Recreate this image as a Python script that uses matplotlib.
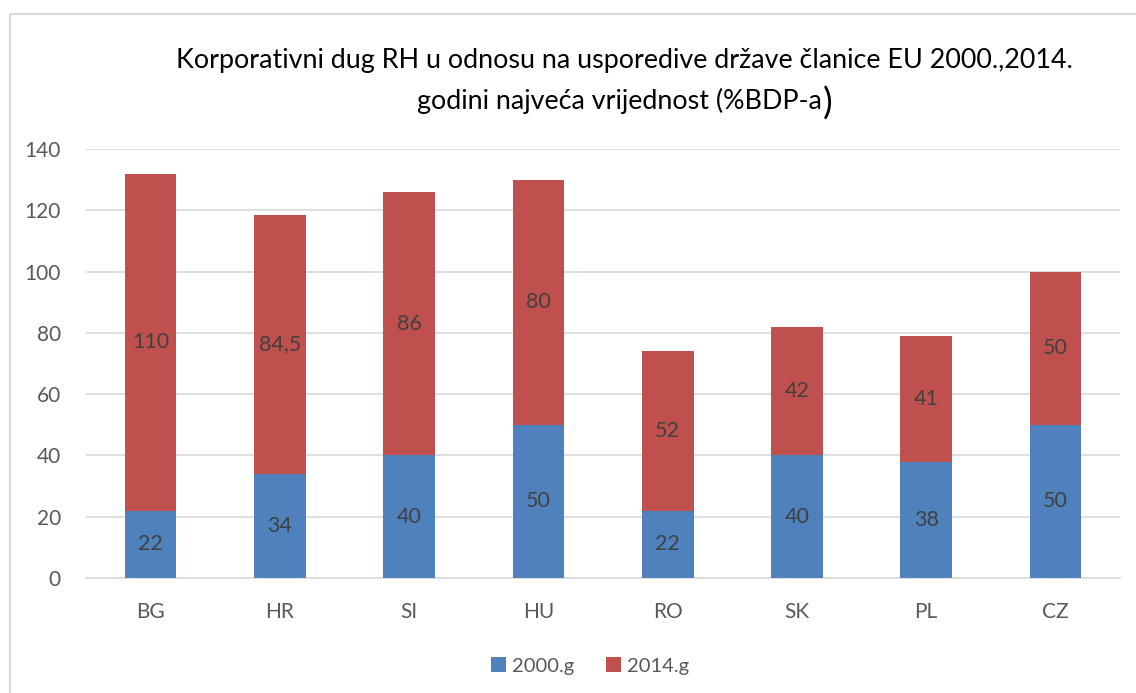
import numpy as np
import matplotlib.pyplot as plt
from matplotlib.patches import Rectangle

countries = ['BG', 'HR', 'SI', 'HU', 'RO', 'SK', 'PL', 'CZ']
y2000 = np.array([22, 34, 40, 50, 22, 40, 38, 50])
y2014 = np.array([110, 84.5, 86, 80, 52, 42, 41, 50])
yticks = [0, 20, 40, 60, 80, 100, 120, 140]

plt.rcParams['font.family'] = ['Lato', 'DejaVu Sans']

fig = plt.figure(figsize=(11.36, 6.93), dpi=100)
ax = fig.add_axes([0.0757, 0.166, 0.9103, 0.619])

x = np.arange(len(countries))
blue = '#4F81BD'
red = '#C0504D'
ax.bar(x, y2000, width=0.4, color=blue, label='2000.g', zorder=3)
ax.bar(x, y2014, width=0.4, bottom=y2000, color=red, label='2014.g', zorder=3)

def fmt(v):
    return ('%g' % v).replace('.', ',')

for xi, a, b in zip(x, y2000, y2014):
    ax.text(xi, a / 2, fmt(a), ha='center', va='center', fontsize=15.5, color='#404040', zorder=4)
    ax.text(xi, a + b / 2, fmt(b), ha='center', va='center', fontsize=15.5, color='#404040', zorder=4)

ax.set_xlim(-0.5, len(countries) - 0.5)
ax.set_ylim(0, 140)
ax.set_yticks(yticks)
ax.set_xticks(x)
ax.set_xticklabels(countries)
ax.grid(axis='y', color='#D9D9D9', linewidth=1.2, zorder=0)
for s in ['top', 'right', 'left']:
    ax.spines[s].set_visible(False)
ax.spines['bottom'].set_color('#D9D9D9')
ax.spines['bottom'].set_linewidth(1.2)
ax.tick_params(axis='both', length=0, labelsize=15, colors='#595959')
ax.tick_params(axis='x', pad=17)
ax.tick_params(axis='y', pad=18)

fig.text(0.550, 0.913, 'Korporativni dug RH u odnosu na usporedive države članice EU 2000.,2014.',
         ha='center', va='center', fontsize=19.4, color='black')
t2 = fig.text(0.545, 0.855, 'godini najveća vrijednost (%BDP-a',
              ha='center', va='center', fontsize=19.4, color='black')
# the closing paren is drawn bigger, right after line 2
fig.canvas.draw()
bb = t2.get_window_extent()
fig.text((bb.x1 + 1) / fig.bbox.width, (bb.y0 + bb.y1) / 2 / fig.bbox.height - 0.004, ')',
         ha='left', va='center', fontsize=26, color='black')

ax.legend(loc='center', bbox_to_anchor=(0.4875, -0.205), ncol=2, frameon=False,
          fontsize=14.5, handlelength=0.75, handleheight=0.75, handletextpad=0.3,
          columnspacing=1.6, labelcolor='#595959')

fig.patches.append(Rectangle((10 / 1136, -0.1), 1.2, 1 - 14 / 693 + 0.1,
                             transform=fig.transFigure, fill=False,
                             edgecolor='#D9D9D9', linewidth=1.5))

plt.savefig('out.png', dpi=100)
